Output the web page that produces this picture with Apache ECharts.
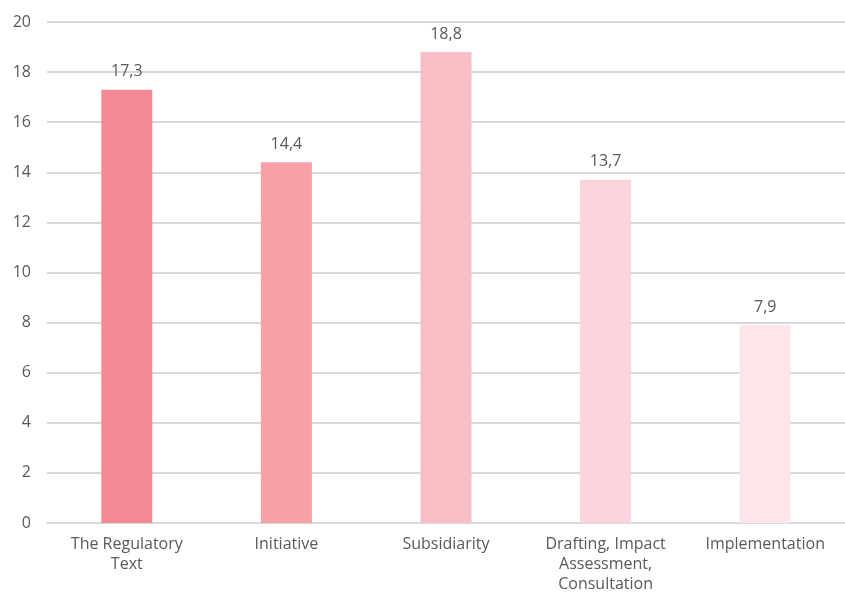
<!DOCTYPE html>
<html>
<head>
<meta charset="utf-8">
<script src="https://cdn.jsdelivr.net/npm/echarts@6/dist/echarts.min.js"></script>
<style>
  html, body { margin: 0; padding: 0; background: #fff; }
  #chart { width: 845px; height: 594px; }
</style>
</head>
<body>
<div id="chart"></div>
<script>
// Categories and values
const categories = [
  'The Regulatory\nText',
  'Initiative',
  'Subsidiarity',
  'Drafting, Impact\nAssessment,\nConsultation',
  'Implementation'
];
const values = [17.3, 14.4, 18.8, 13.7, 7.9];
const barColors = ['#F48A93', '#F6A1A8', '#F9BEC5', '#FAD5DB', '#FDE6E9'];
const yTicks = { min: 0, max: 20, interval: 2 };

const font = '"Open Sans", sans-serif';
const chart = echarts.init(document.getElementById('chart'));
chart.setOption({
  animation: false,
  grid: { left: 47, top: 22, width: 805, height: 504, containLabel: false },
  xAxis: {
    type: 'category',
    data: categories,
    axisLine: { lineStyle: { color: '#D9D9D9', width: 2 } },
    axisTick: { show: false },
    axisLabel: {
      color: '#595959', fontSize: 16, fontFamily: font,
      lineHeight: 20, margin: 11, interval: 0
    }
  },
  yAxis: {
    type: 'value',
    min: yTicks.min, max: yTicks.max, interval: yTicks.interval,
    axisLine: { show: false },
    axisTick: { show: false },
    splitLine: { lineStyle: { color: '#D9D9D9', width: 2 } },
    axisLabel: { color: '#595959', fontSize: 16, fontFamily: font, margin: 16 }
  },
  series: [{
    type: 'bar',
    barWidth: 51,
    data: values.map((v, i) => ({ value: v, itemStyle: { color: barColors[i] } })),
    label: {
      show: true, position: 'top', distance: 10,
      color: '#595959', fontSize: 16, fontFamily: font,
      formatter: p => String(p.value).replace('.', ',')
    }
  }]
});
</script>
</body>
</html>
